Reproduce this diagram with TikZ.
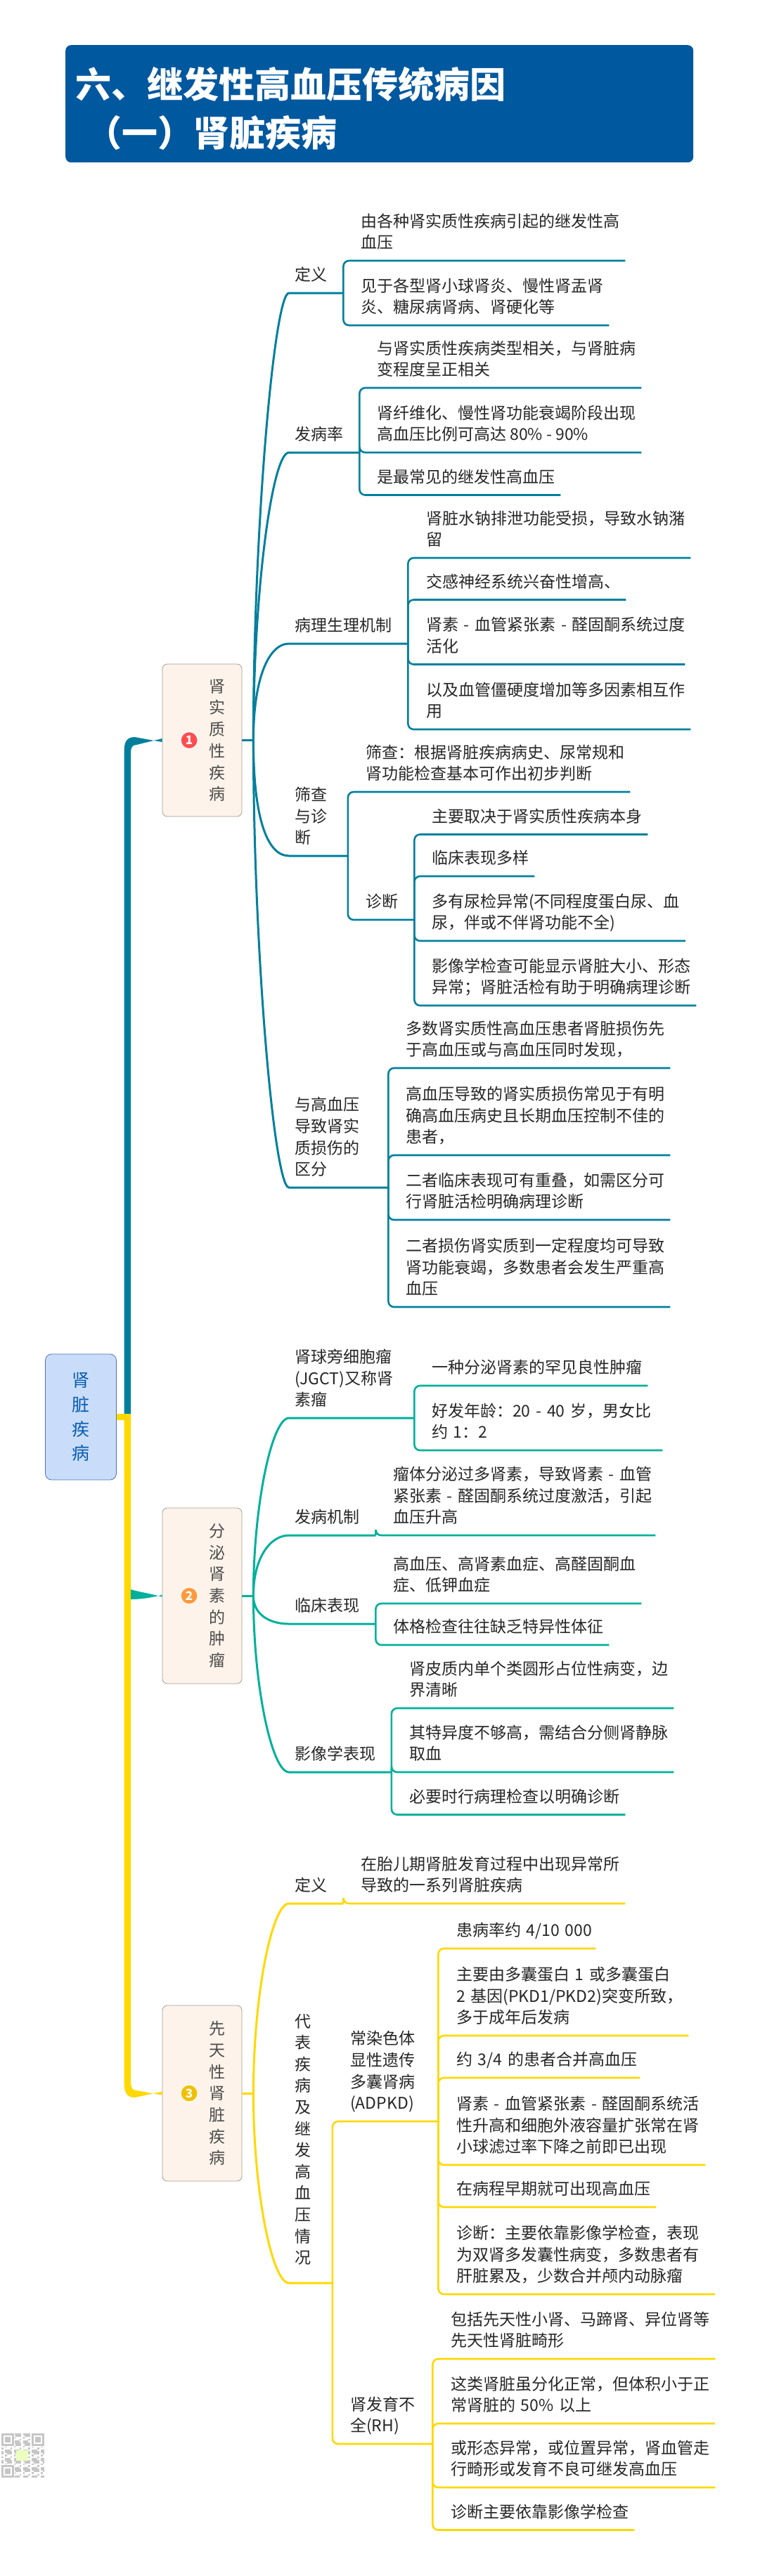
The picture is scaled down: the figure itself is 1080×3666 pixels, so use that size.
\documentclass[tikz,border=0pt]{standalone}
\usepackage{fontspec}
\setmainfont{Noto Sans CJK SC}
\usetikzlibrary{positioning, calc}
\definecolor{brA}{HTML}{007F9D}
\definecolor{brB}{HTML}{00B09B}
\definecolor{brC}{HTML}{FFD800}
\definecolor{capblue}{HTML}{00589F}
\definecolor{rootfill}{HTML}{C9DDFB}
\definecolor{rootline}{HTML}{4E6FB0}
\definecolor{rootfont}{HTML}{0B5CAD}
\definecolor{boxfill}{HTML}{FDF3EA}
\definecolor{boxline}{HTML}{A49C92}
\definecolor{qrgray}{HTML}{C6C6C6}
\definecolor{iconA}{HTML}{FF4D4F}
\definecolor{iconB}{HTML}{FF9A3C}
\definecolor{iconC}{HTML}{F0C000}
\tikzset{
  topic/.style={anchor=south west, align=left, inner xsep=8pt, inner ysep=8pt,
    text=black!85, font={\fontsize{23pt}{30.6pt}\selectfont},
    execute at begin node=\strut, execute at end node=\strut},
  branchbox/.style={draw=boxline, fill=boxfill, rounded corners=7pt, line width=0.8pt,
    minimum width=113pt, text width=66pt, inner xsep=23.5pt, inner ysep=0pt, align=right,
    text=black!70, font={\fontsize{23pt}{30.7pt}\selectfont}},
  icon/.style={circle, draw=white, line width=1pt, minimum size=24pt, inner sep=0pt,
    text=white, font={\fontsize{17pt}{17pt}\selectfont\bfseries}},
  fan/.style={line width=3pt},
  bracket/.style={line width=2.6pt, rounded corners=8pt},
}
\begin{document}
\begin{tikzpicture}[x=1pt, y=-1pt]
  \useasboundingbox (0,0) rectangle (1080,3666);
  \node[anchor=north west, fill=capblue, rounded corners=8pt, minimum width=893pt, minimum height=167pt,
    text width=865pt, inner xsep=14pt, inner ysep=0pt, align=left, text=white,
    font={\fontsize{51pt}{69pt}\selectfont\bfseries}] (caption) at (93,64)
    {\rule{0pt}{58pt}六、继发性高血压传统病因\\\hspace*{15pt}（一）肾脏疾病};
  \node[draw=rootline, fill=rootfill, rounded corners=9pt, line width=0.8pt, minimum width=101pt, minimum height=179pt,
    inner sep=0pt, align=center, text=rootfont, font={\fontsize{25pt}{34.6pt}\selectfont}] (root) at (115,2016.5)
    {肾\\脏\\疾\\病};

  \node[branchbox, minimum height=217pt] (boxA) at (287.5,1053.5) {肾\\实\\质\\性\\疾\\病};
  \node[branchbox, minimum height=250pt] (boxB) at (287.5,2271) {分\\泌\\肾\\素\\的\\肿\\瘤};
  \node[branchbox, minimum height=250pt] (boxC) at (287.5,2979) {先\\天\\性\\肾\\脏\\疾\\病};
  \node[icon, fill=iconA, right=26pt of boxA.west, anchor=west] (markA) {1};
  \node[icon, fill=iconB, right=26pt of boxB.west, anchor=west] (markB) {2};
  \node[icon, fill=iconC, right=26pt of boxC.west, anchor=west] (markC) {3};
  \coordinate[right=16pt of boxA.east] (hubA);
  \coordinate[right=16pt of boxB.east] (hubB);
  \coordinate[right=16pt of boxC.east] (hubC);

  %% trunk
  \fill[brA] (176.5,2012) -- (176.5,1072) .. controls (176.5,1055) and (180,1049) .. (192,1049)
    -- ([yshift=-2.5pt]boxA.west) -- ([yshift=2.5pt]boxA.west) -- (194,1060)
    .. controls (188,1060) and (186,1064) .. (186,1072) -- (186,2012) -- cycle;
  \fill[brC] (root.east |- 0,2012) -- (186,2012) -- (186,2962) .. controls (186,2971) and (188,2975) .. (194,2975)
    -- ([yshift=-2.5pt]boxC.west) -- ([yshift=2.5pt]boxC.west) -- (192,2985)
    .. controls (180,2985) and (176.5,2978) .. (176.5,2962) -- (176.5,2021) -- (root.east |- 0,2021) -- cycle;
  \fill[brB] (186,2262) .. controls (200,2266) and (215,2268) .. ([yshift=-1.5pt]boxB.west)
    -- ([yshift=1.5pt]boxB.west) .. controls (215,2274) and (200,2276) .. (186,2276) -- cycle;

  %% branch one
  \node[topic, text width=61pt] (defA) at (411,417) {定义};
  \node[topic] (defA1) at (505,371) {由各种肾实质性疾病引起的继发性高\\血压};
  \node[topic] (defA2) at (505,463) {见于各型肾小球肾炎、慢性肾盂肾\\炎、糖尿病肾病、肾硬化等};

  \node[topic, text width=84pt] (rateA) at (411,644) {发病率};
  \node[topic] (rateA1) at (528,552) {与肾实质性疾病类型相关，与肾脏病\\变程度呈正相关};
  \node[topic] (rateA2) at (528,644) {肾纤维化、慢性肾功能衰竭阶段出现\\高血压比例可高达 80\% - 90\%};
  \node[topic] (rateA3) at (528,704.5) {是最常见的继发性高血压};

  \node[topic, text width=153pt] (mechA) at (411,916) {病理生理机制};
  \node[topic] (mechA1) at (598,794) {肾脏水钠排泄功能受损，导致水钠潴\\留};
  \node[topic] (mechA2) at (598,853.5) {交感神经系统兴奋性增高、};
  \node[topic, text width=360pt] (mechA3) at (598,945.5) {\mbox{肾素 - 血管紧张素 - 醛固酮系统过度}\\活化};
  \node[topic] (mechA4) at (598,1038) {以及血管僵硬度增加等多因素相互作\\用};

  \node[topic, text width=67.5pt] (diagA) at (411,1218) {筛查\\与诊\\断};
  \node[topic] (diagA1) at (512,1127) {筛查：根据肾脏疾病病史、尿常规和\\肾功能检查基本可作出初步判断};
  \node[topic, text width=61pt] (diagA2) at (512,1309) {诊断};
  \node[topic] (diagA21) at (606,1187.5) {主要取决于肾实质性疾病本身};
  \node[topic] (diagA22) at (606,1247) {临床表现多样};
  \node[topic, text width=352.5pt] (diagA23) at (606,1339) {\mbox{多有尿检异常(不同程度蛋白尿、血}\\尿，伴或不伴肾功能不全)};
  \node[topic] (diagA24) at (606,1431) {影像学检查可能显示肾脏大小、形态\\异常；肾脏活检有助于明确病理诊断};

  \node[topic, text width=125pt] (diffA) at (411,1690) {与高血压\\导致肾实\\质损伤的\\区分};
  \node[topic] (diffA1) at (569,1520) {多数肾实质性高血压患者肾脏损伤先\\于高血压或与高血压同时发现，};
  \node[topic] (diffA2) at (569,1644) {高血压导致的肾实质损伤常见于有明\\确高血压病史且长期血压控制不佳的\\患者，};
  \node[topic] (diffA3) at (569,1736) {二者临床表现可有重叠，如需区分可\\行肾脏活检明确病理诊断};
  \node[topic] (diffA4) at (569,1860) {二者损伤肾实质到一定程度均可导致\\肾功能衰竭，多数患者会发生严重高\\血压};

  \draw[fan, brA] (boxA.east) -- (hubA);
  \draw[fan, brA] (hubA) .. controls +(0,-300) and +(-21,0) .. (defA.south west) -- (defA.south east);
  \draw[fan, brA] (hubA) .. controls +(0,-210) and +(-24,0) .. (rateA.south west) -- (rateA.south east);
  \draw[fan, brA] (hubA) .. controls +(0,-90) and +(-28,0) .. (mechA.south west) -- (mechA.south east);
  \draw[fan, brA] (hubA) .. controls +(0,120) and +(-28,0) .. (diagA.south west) -- (diagA.south east);
  \draw[fan, brA] (hubA) .. controls +(0,300) and +(-21,0) .. (diffA.south west) -- (diffA.south east);

  \draw[bracket, brA] (defA.south east) |- (defA1.south east);
  \draw[bracket, brA] (defA.south east) |- (defA2.south east);
  \draw[bracket, brA] (rateA.south east) |- (rateA1.south east);
  \draw[bracket, brA] (rateA.south east) |- (rateA2.south east);
  \draw[bracket, brA] (rateA.south east) |- (rateA3.south east);
  \draw[bracket, brA] (mechA.south east) |- (mechA1.south east);
  \draw[bracket, brA] (mechA.south east) |- (mechA2.south east);
  \draw[bracket, brA] (mechA.south east) |- (mechA3.south east);
  \draw[bracket, brA] (mechA.south east) |- (mechA4.south east);
  \draw[bracket, brA] (diagA.south east) |- (diagA1.south east);
  \draw[bracket, brA] (diagA.south east) |- (diagA2.south east);
  \draw[bracket, brA] (diagA2.south east) |- (diagA21.south east);
  \draw[bracket, brA] (diagA2.south east) |- (diagA22.south east);
  \draw[bracket, brA] (diagA2.south east) |- (diagA23.south east);
  \draw[bracket, brA] (diagA2.south east) |- (diagA24.south east);
  \draw[bracket, brA] (diffA.south east) |- (diffA1.south east);
  \draw[bracket, brA] (diffA.south east) |- (diffA2.south east);
  \draw[bracket, brA] (diffA.south east) |- (diffA3.south east);
  \draw[bracket, brA] (diffA.south east) |- (diffA4.south east);

  %% branch two
  \node[topic, text width=162pt] (jgctB) at (411,2018) {肾球旁细胞瘤\\(JGCT)又称肾\\素瘤};
  \node[topic] (jgctB1) at (606,1972) {一种分泌肾素的罕见良性肿瘤};
  \node[topic, text width=320pt] (jgctB2) at (606,2064) {\mbox{好发年龄：20 - 40 岁，男女比}\\约 1：2};

  \node[topic, text width=107pt] (mechB) at (411,2185) {发病机制};
  \node[topic, text width=365pt] (mechB1) at (551,2185) {\mbox{瘤体分泌过多肾素，导致肾素 - 血管}\\\mbox{紧张素 - 醛固酮系统过度激活，引起}\\血压升高};

  \node[topic, text width=107pt] (signB) at (411,2311) {临床表现};
  \node[topic] (signB1) at (551,2282) {高血压、高肾素血症、高醛固酮血\\症、低钾血症};
  \node[topic] (signB2) at (551,2341) {体格检查往往缺乏特异性体征};

  \node[topic, text width=129.5pt] (imgB) at (411,2522) {影像学表现};
  \node[topic] (imgB1) at (574,2431) {肾皮质内单个类圆形占位性病变，边\\界清晰};
  \node[topic] (imgB2) at (574,2522) {其特异度不够高，需结合分侧肾静脉\\取血};
  \node[topic] (imgB3) at (574,2582.5) {必要时行病理检查以明确诊断};

  \draw[fan, brB] (boxB.east) -- (hubB);
  \draw[fan, brB] (hubB) .. controls +(0,-130) and +(-24,0) .. (jgctB.south west) -- (jgctB.south east);
  \draw[fan, brB] (hubB) .. controls +(0,-55) and +(-26,0) .. (mechB.south west) -- (mechB.south east);
  \draw[fan, brB] (hubB) .. controls +(0,28) and +(-26,0) .. (signB.south west) -- (signB.south east);
  \draw[fan, brB] (hubB) .. controls +(0,130) and +(-24,0) .. (imgB.south west) -- (imgB.south east);

  \draw[bracket, brB] (jgctB.south east) |- (jgctB1.south east);
  \draw[bracket, brB] (jgctB.south east) |- (jgctB2.south east);
  \draw[bracket, brB] (mechB.south east) |- (mechB1.south east);
  \draw[bracket, brB] (signB.south east) |- (signB1.south east);
  \draw[bracket, brB] (signB.south east) |- (signB2.south east);
  \draw[bracket, brB] (imgB.south east) |- (imgB1.south east);
  \draw[bracket, brB] (imgB.south east) |- (imgB2.south east);
  \draw[bracket, brB] (imgB.south east) |- (imgB3.south east);

  %% branch three
  \node[topic, text width=61pt] (defC) at (411,2709) {定义};
  \node[topic] (defC1) at (505,2709) {在胎儿期肾脏发育过程中出现异常所\\导致的一系列肾脏疾病};

  \node[topic, text width=45.5pt, inner ysep=18pt] (typeC) at (411,3249)
    {代\\表\\疾\\病\\及\\继\\发\\高\\血\\压\\情\\况};
  \node[topic, text width=117pt] (adpkdC) at (490,3019) {常染色体\\显性遗传\\多囊肾病\\(ADPKD)};
  \node[topic, text width=190pt] (adpkdC1) at (641,2773) {\mbox{患病率约 4/10 000}};
  \node[topic, text width=322pt] (adpkdC2) at (641,2897) {\mbox{主要由多囊蛋白 1 或多囊蛋白}\\\mbox{2 基因(PKD1/PKD2)突变所致，}\\多于成年后发病};
  \node[topic, text width=253pt] (adpkdC3) at (641,2957) {\mbox{约 3/4 的患者合并高血压}};
  \node[topic, text width=346pt] (adpkdC4) at (641,3081) {\mbox{肾素 - 血管紧张素 - 醛固酮系统活}\\性升高和细胞外液容量扩张常在肾\\小球滤过率下降之前即已出现};
  \node[topic] (adpkdC5) at (641,3141) {在病程早期就可出现高血压};
  \node[topic, text width=359.5pt] (adpkdC6) at (641,3265) {诊断：主要依靠影像学检查，表现\\为双肾多发囊性病变，多数患者有\\肝脏累及，少数合并颅内动脉瘤};
  \node[topic, text width=109pt] (rhC) at (490,3478) {肾发育不\\全(RH)};
  \node[topic] (rhC1) at (633,3357) {包括先天性小肾、马蹄肾、异位肾等\\先天性肾脏畸形};
  \node[topic, text width=367.5pt] (rhC2) at (633,3449) {这类肾脏虽分化正常，但体积小于正\\\mbox{常肾脏的 50\% 以上}};
  \node[topic] (rhC3) at (633,3540) {或形态异常，或位置异常，肾血管走\\行畸形或发育不良可继发高血压};
  \node[topic] (rhC4) at (633,3600.5) {诊断主要依靠影像学检查};

  \draw[fan, brC] (boxC.east) -- (hubC);
  \draw[fan, brC] (hubC) .. controls +(0,-140) and +(-24,0) .. (defC.south west) -- (defC.south east);
  \draw[fan, brC] (hubC) .. controls +(0,140) and +(-24,0) .. (typeC.south west) -- (typeC.south east);

  \draw[bracket, brC] (defC.south east) |- (defC1.south east);
  \draw[bracket, brC] (typeC.south east) |- (adpkdC.south east);
  \draw[bracket, brC] (typeC.south east) |- (rhC.south east);
  \draw[bracket, brC] (adpkdC.south east) |- (adpkdC1.south east);
  \draw[bracket, brC] (adpkdC.south east) |- (adpkdC2.south east);
  \draw[bracket, brC] (adpkdC.south east) |- (adpkdC3.south east);
  \draw[bracket, brC] (adpkdC.south east) |- (adpkdC4.south east);
  \draw[bracket, brC] (adpkdC.south east) |- (adpkdC5.south east);
  \draw[bracket, brC] (adpkdC.south east) |- (adpkdC6.south east);
  \draw[bracket, brC] (rhC.south east) |- (rhC1.south east);
  \draw[bracket, brC] (rhC.south east) |- (rhC2.south east);
  \draw[bracket, brC] (rhC.south east) |- (rhC3.south east);
  \draw[bracket, brC] (rhC.south east) |- (rhC4.south east);

  %% corner code
  \foreach \i in {0,...,23}
    \foreach \j in {0,...,24} {
      \pgfmathtruncatemacro{\on}{mod(\i*\i*7+\j*\j*5+\i*\j*3+\i+2*\j,5)}
      \ifnum\on<3 \fill[qrgray] (2+\i*2.55,3463+\j*2.5) rectangle +(2.55,2.5); \fi
    }
  \foreach \qx/\qy in {2/3463, 45/3463, 2/3508} {
    \fill[white] (\qx-1,\qy-1) rectangle +(20,20);
    \fill[qrgray] (\qx,\qy) rectangle +(17.5,17.5);
    \fill[white] (\qx+2.5,\qy+2.5) rectangle +(12.5,12.5);
    \fill[qrgray] (\qx+5,\qy+5) rectangle +(7.5,7.5);
  }
  \fill[green!30!yellow!25!white] (23,3487) rectangle (40,3502);
\end{tikzpicture}
\end{document}
